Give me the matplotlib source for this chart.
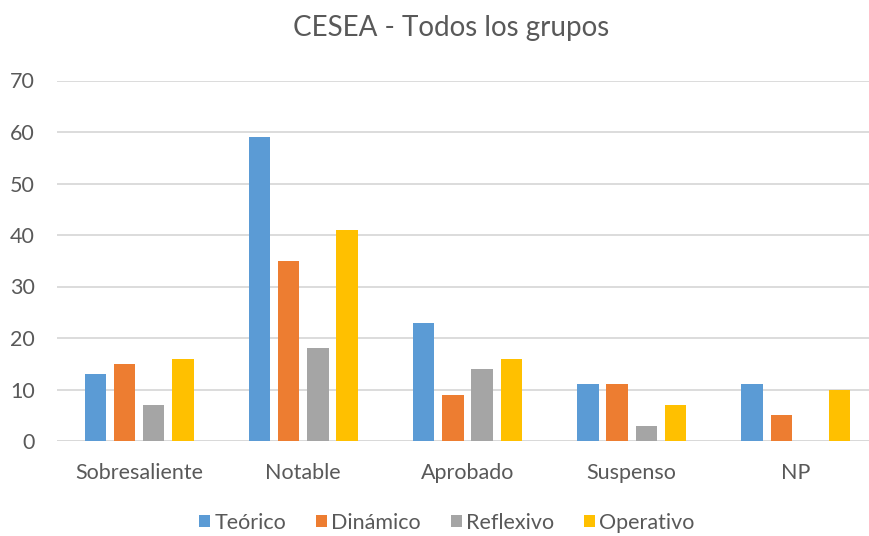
import numpy as np
import matplotlib.pyplot as plt
from matplotlib.patches import Patch

plt.rcParams["font.family"] = ["Lato", "DejaVu Sans"]

categorias = ["Sobresaliente", "Notable", "Aprobado", "Suspenso", "NP"]
series = ["Teórico", "Dinámico", "Reflexivo", "Operativo"]
teorico = [13, 59, 23, 11, 11]
dinamico = [15, 35, 9, 11, 5]
reflexivo = [7, 18, 14, 3, 0]
operativo = [16, 41, 16, 7, 10]
colores = ["#5B9BD5", "#ED7D31", "#A5A5A5", "#FFC000"]

valores = [teorico, dinamico, reflexivo, operativo]
texto = "#595959"

fig = plt.figure(figsize=(8.7, 5.36), dpi=100)
ax = fig.add_axes([57 / 870, 1 - 441 / 536, (878 - 57) / 870, (441 - 80.5) / 536])

x = np.arange(len(categorias))
ancho = 0.13
paso = 0.178
for i, (nombre, vals, color) in enumerate(zip(series, valores, colores)):
    ax.bar(x + (i - 1.5) * paso, vals, width=ancho, color=color, label=nombre, zorder=3)

ax.set_xlim(-0.5, len(categorias) - 0.5)
ax.set_ylim(0, 70)
ax.set_yticks(range(0, 71, 10))
ax.set_xticks(x)
ax.set_xticklabels(categorias)
ax.tick_params(axis="both", length=0, labelsize=15.5, colors=texto)
ax.tick_params(axis="x", pad=16)
ax.tick_params(axis="y", pad=16)
ax.grid(axis="y", color="#D9D9D9", linewidth=1.3, zorder=0)
for lado in ax.spines.values():
    lado.set_visible(False)
ax.axhline(0, color="#D9D9D9", linewidth=1.3, zorder=2)

fig.text(451 / 870, 1 - 28 / 536, "CESEA - Todos los grupos", ha="center", va="center",
         fontsize=20, color=texto)

handles = [Patch(facecolor=c, label=s) for s, c in zip(series, colores)]
fig.legend(handles=handles, loc="center", bbox_to_anchor=(447 / 870, 1 - 523 / 536),
           ncol=4, frameon=False, fontsize=15.5, labelcolor=texto, handlelength=0.5,
           handleheight=0.5, handletextpad=0.2, columnspacing=1.4)

fig.savefig("out.png", dpi=100)
